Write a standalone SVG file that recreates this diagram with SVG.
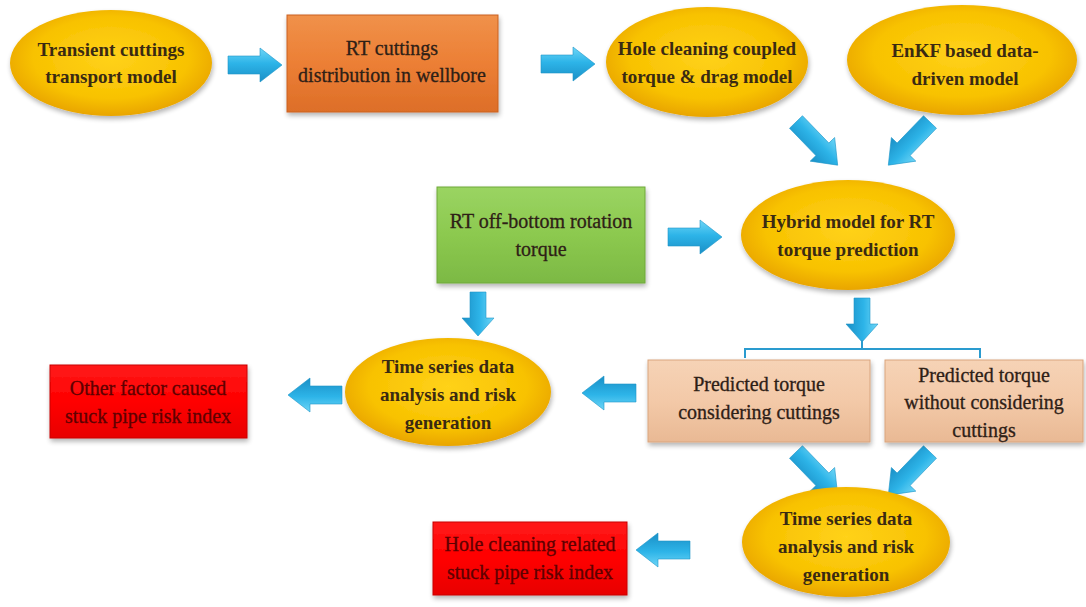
<svg xmlns="http://www.w3.org/2000/svg" width="1086" height="607" viewBox="0 0 1086 607">
  <defs>
    <radialGradient id="gYellow" cx="50%" cy="45%" r="55%">
      <stop offset="0" stop-color="#FFD21A"/>
      <stop offset="0.7" stop-color="#F8C200"/>
      <stop offset="1" stop-color="#E9A500"/>
    </radialGradient>
    <linearGradient id="gOrange" x1="0" y1="0" x2="0" y2="1">
      <stop offset="0" stop-color="#F0914A"/>
      <stop offset="0.5" stop-color="#EC7F35"/>
      <stop offset="1" stop-color="#DD6E28"/>
    </linearGradient>
    <linearGradient id="gGreen" x1="0" y1="0" x2="0" y2="1">
      <stop offset="0" stop-color="#9AD462"/>
      <stop offset="0.5" stop-color="#8CC94F"/>
      <stop offset="1" stop-color="#7CB944"/>
    </linearGradient>
    <linearGradient id="gPeach" x1="0" y1="0" x2="0" y2="1">
      <stop offset="0" stop-color="#F6D3B6"/>
      <stop offset="0.5" stop-color="#F3C9A8"/>
      <stop offset="1" stop-color="#E9B994"/>
    </linearGradient>
    <linearGradient id="gRed" x1="0" y1="0" x2="0" y2="1">
      <stop offset="0" stop-color="#FF1A1A"/>
      <stop offset="0.5" stop-color="#FF0000"/>
      <stop offset="1" stop-color="#E80000"/>
    </linearGradient>
    <linearGradient id="gArrow" x1="0" y1="0" x2="0" y2="1">
      <stop offset="0" stop-color="#6FD6F7"/>
      <stop offset="0.45" stop-color="#2DB4E8"/>
      <stop offset="1" stop-color="#1A8FC6"/>
    </linearGradient>
    <filter id="shadow" x="-10%" y="-10%" width="125%" height="130%">
      <feGaussianBlur in="SourceAlpha" stdDeviation="2.5"/>
      <feOffset dx="1" dy="3" result="b"/>
      <feComponentTransfer><feFuncA type="linear" slope="0.3"/></feComponentTransfer>
      <feMerge><feMergeNode/><feMergeNode in="SourceGraphic"/></feMerge>
    </filter>
    <!-- block arrows pointing right, tail at the origin -->
    <path id="arrowH" d="M0,-9 L32,-9 L32,-17 L54,0 L32,17 L32,9 L0,9 Z"/>
    <path id="arrowV" d="M0,-8 L26,-8 L26,-16 L44,0 L26,16 L26,8 L0,8 Z"/>
    <path id="arrowD" d="M0,-9 L38,-9 L38,-17 L60,0 L38,17 L38,9 L0,9 Z"/>
  </defs>
  <style>
    .ell { fill: url(#gYellow); filter: url(#shadow); }
    .box { stroke-width: 1; filter: url(#shadow); }
    .orange { fill: url(#gOrange); stroke: #C9611F; }
    .green { fill: url(#gGreen); stroke: #6FA83A; }
    .peach { fill: url(#gPeach); stroke: #D9A57E; }
    .red { fill: url(#gRed); stroke: #C80000; }
    text { font-family: "Liberation Serif", "Times New Roman", serif; font-size: 19px; text-anchor: middle; }
    .tb { font-weight: bold; fill: #3A2A12; }
    .tr { fill: #2E2016; font-size: 20px; stroke: #2E2016; stroke-width: 0.3; }
    .tred { fill: #5E0000; font-size: 20px; stroke: #5E0000; stroke-width: 0.3; }
    .arrow { fill: url(#gArrow); stroke: #1E95C8; stroke-width: 0.6; }
    .bracket { fill: none; stroke: #2A9BCF; stroke-width: 2; }
  </style>

  <rect width="1086" height="607" fill="#FFFFFF"/>

  <g id="connectors">
    <use href="#arrowH" class="arrow" transform="translate(228,65)"/>
    <use href="#arrowH" class="arrow" transform="translate(541,64)"/>
    <use href="#arrowD" class="arrow" transform="translate(796,122) rotate(46)"/>
    <use href="#arrowD" class="arrow" transform="translate(930,122) rotate(134)"/>
    <use href="#arrowH" class="arrow" transform="translate(668,237)"/>
    <use href="#arrowV" class="arrow" transform="translate(478,292) rotate(90)"/>
    <use href="#arrowV" class="arrow" transform="translate(862,298) rotate(90)"/>
    <path class="bracket" d="M745,358 L745,349 L980,349 L980,358 M862,340 L862,349"/>
    <use href="#arrowH" class="arrow" transform="translate(636,393) rotate(180)"/>
    <use href="#arrowH" class="arrow" transform="translate(342,395) rotate(180)"/>
    <use href="#arrowD" class="arrow" transform="translate(796,452) rotate(46)"/>
    <use href="#arrowD" class="arrow" transform="translate(930,452) rotate(134)"/>
    <use href="#arrowH" class="arrow" transform="translate(690,550) rotate(180)"/>
  </g>

  <g id="transient-model">
    <ellipse class="ell" cx="111" cy="63" rx="101" ry="53"/>
    <text class="tb" x="111" y="56">Transient cuttings</text>
    <text class="tb" x="111" y="83">transport model</text>
  </g>

  <g id="rt-cuttings">
    <rect class="box orange" x="287" y="15" width="211" height="97"/>
    <text class="tr" x="392" y="55">RT cuttings</text>
    <text class="tr" x="392" y="82">distribution in wellbore</text>
  </g>

  <g id="torque-drag-model">
    <ellipse class="ell" cx="707" cy="62" rx="101" ry="55"/>
    <text class="tb" x="707" y="55">Hole cleaning coupled</text>
    <text class="tb" x="707" y="83">torque &amp; drag model</text>
  </g>

  <g id="enkf-model">
    <ellipse class="ell" cx="962" cy="60" rx="115" ry="55"/>
    <text class="tb" x="965" y="57">EnKF based data-</text>
    <text class="tb" x="965" y="85">driven model</text>
  </g>

  <g id="off-bottom-torque">
    <rect class="box green" x="437" y="187" width="208" height="96"/>
    <text class="tr" x="541" y="228">RT off-bottom rotation</text>
    <text class="tr" x="541" y="256">torque</text>
  </g>

  <g id="hybrid-model">
    <ellipse class="ell" cx="848" cy="235" rx="107" ry="55"/>
    <text class="tb" x="848" y="228">Hybrid model for RT</text>
    <text class="tb" x="848" y="256">torque prediction</text>
  </g>

  <g id="time-series-upper">
    <ellipse class="ell" cx="448" cy="392" rx="103" ry="54"/>
    <text class="tb" x="448" y="373">Time series data</text>
    <text class="tb" x="448" y="401">analysis and risk</text>
    <text class="tb" x="448" y="429">generation</text>
  </g>

  <g id="other-factor-risk">
    <rect class="box red" x="50" y="365" width="197" height="73"/>
    <text class="tred" x="148" y="395">Other factor caused</text>
    <text class="tred" x="148" y="423">stuck pipe risk index</text>
  </g>

  <g id="torque-with-cuttings">
    <rect class="box peach" x="648" y="360" width="222" height="82"/>
    <text class="tr" x="759" y="391">Predicted torque</text>
    <text class="tr" x="759" y="419">considering cuttings</text>
  </g>

  <g id="torque-without-cuttings">
    <rect class="box peach" x="885" y="360" width="198" height="82"/>
    <text class="tr" x="984" y="382">Predicted torque</text>
    <text class="tr" x="984" y="409">without considering</text>
    <text class="tr" x="984" y="437">cuttings</text>
  </g>

  <g id="time-series-lower">
    <ellipse class="ell" cx="846" cy="542" rx="104" ry="55"/>
    <text class="tb" x="846" y="525">Time series data</text>
    <text class="tb" x="846" y="553">analysis and risk</text>
    <text class="tb" x="846" y="581">generation</text>
  </g>

  <g id="hole-cleaning-risk">
    <rect class="box red" x="433" y="522" width="194" height="73"/>
    <text class="tred" x="530" y="551">Hole cleaning related</text>
    <text class="tred" x="530" y="579">stuck pipe risk index</text>
  </g>
</svg>
